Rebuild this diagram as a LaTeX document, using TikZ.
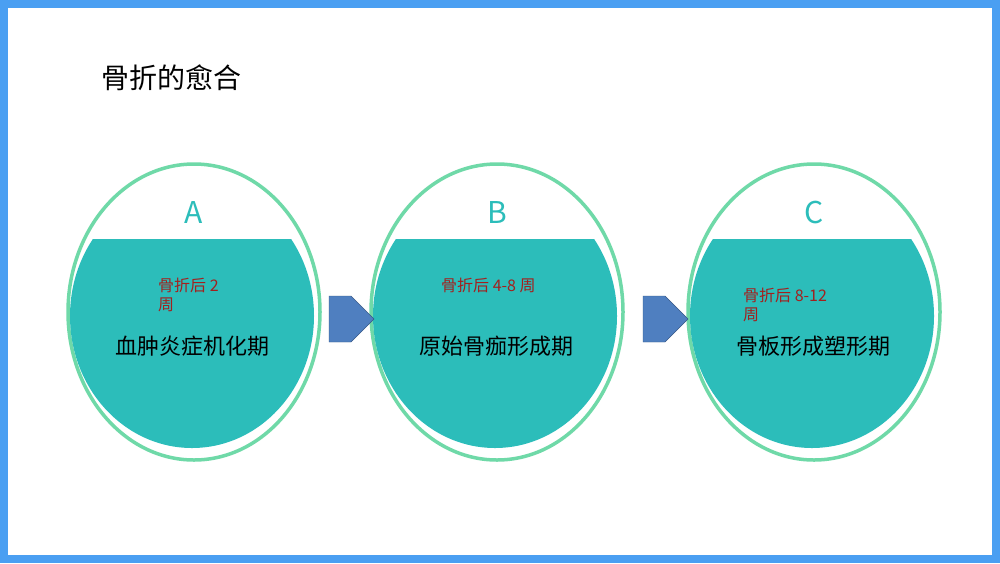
\documentclass[tikz,border=0pt]{standalone}
\usepackage{fontspec}
\setmainfont{Noto Sans CJK SC}
\usetikzlibrary{shapes.arrows}
\definecolor{frameblue}{HTML}{4A9FF2}
\definecolor{ringgreen}{HTML}{6FD9A8}
\definecolor{tealfill}{HTML}{2CBDBA}
\definecolor{darkred}{HTML}{A3201E}
\definecolor{arrowblue}{HTML}{4F7FC0}
\tikzset{
  ring/.style={draw=ringgreen, line width=3.5pt},
  letter/.style={text=tealfill, font=\fontsize{30}{30}\selectfont},
  weeks/.style={text=darkred, font=\fontsize{16}{19}\selectfont, align=left, anchor=north west, inner sep=0pt},
  phase/.style={text=black, font=\fontsize{22}{22}\selectfont},
  blockarrow/.style={single arrow, draw=arrowblue!70!black, fill=arrowblue, minimum height=45pt, minimum width=46pt, single arrow head extend=0pt, single arrow tip angle=90, inner sep=0pt}
}
\begin{document}
\begin{tikzpicture}[x=1pt,y=-1pt]
    \useasboundingbox (0,0) rectangle (1000,563);
    \fill[white] (0,0) rectangle (1000,563);
    \draw[frameblue, line width=8pt] (4,4) rectangle (996,559);

    \node[anchor=west, font=\fontsize{28}{28}\selectfont] (title) at (98,78) {骨折的愈合};

    % three stages
    \foreach \x/\l in {194/A, 497/B, 814/C} {
        \draw[ring] (\x,312) ellipse (126pt and 148pt);
        \begin{scope}
            \clip (\x-130,239) rectangle (\x+130,460);
            \fill[tealfill] (\x-2,316) ellipse (122pt and 132pt);
        \end{scope}
        \node[letter] (letter\l) at (\x,212) {\l};
    }

    \node[weeks] (weeksA) at (158,278) {骨折后 2\\周};
    \node[weeks] (weeksB) at (441,278) {骨折后 4-8 周};
    \node[weeks] (weeksC) at (743,288) {骨折后 8-12\\周};

    \node[phase] (phaseA) at (192,346) {血肿炎症机化期};
    \node[phase] (phaseB) at (496,346) {原始骨痂形成期};
    \node[phase] (phaseC) at (813,346) {骨板形成塑形期};

    \node[blockarrow] (arrowAB) at (340,319) {};
    \node[blockarrow] (arrowBC) at (654,319) {};
\end{tikzpicture}
\end{document}
